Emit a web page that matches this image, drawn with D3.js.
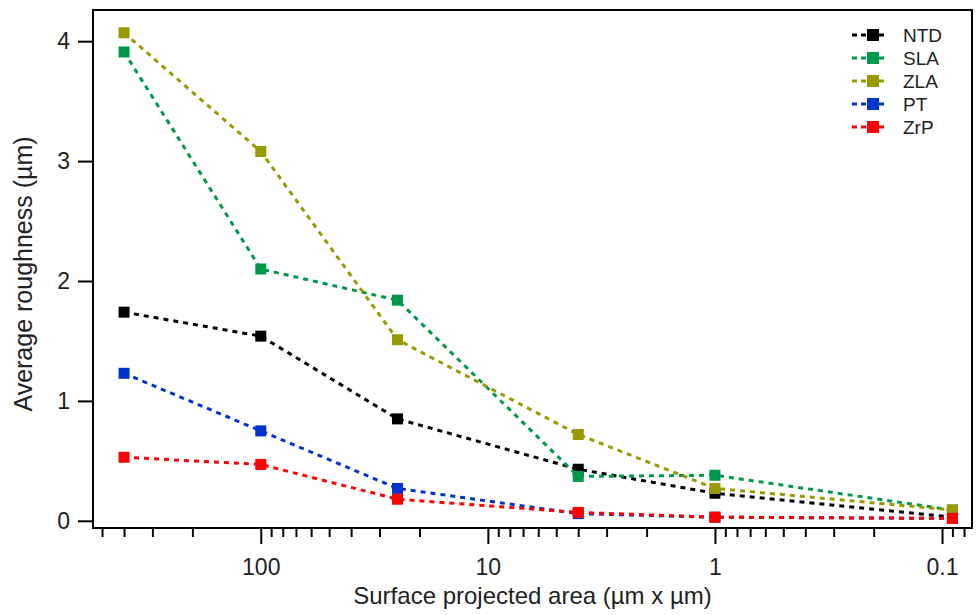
<!DOCTYPE html>
<html>
<head>
<meta charset="utf-8">
<script src="https://cdn.jsdelivr.net/npm/d3@7"></script>
<style>
  body { margin: 0; background: #fff; }
  text { font-family: "Liberation Sans", Arial, sans-serif; fill: #222; }
</style>
</head>
<body>
<div id="chart"></div>
<script>
// data
const areas = [400, 100, 25, 4, 1, 0.09];          // surface projected area (µm x µm)
const seriesNames = ["NTD", "SLA", "ZLA", "PT", "ZrP"];
const seriesColors = ["#000000", "#00994c", "#999900", "#0033cc", "#ff0000"];
const ntd = [1.74, 1.54, 0.85, 0.43, 0.23, 0.03];
const sla = [3.91, 2.10, 1.84, 0.37, 0.38, 0.09];
const zla = [4.07, 3.08, 1.51, 0.72, 0.27, 0.09];
const pt  = [1.23, 0.75, 0.27, 0.06, 0.03, 0.02];
const zrp = [0.53, 0.47, 0.18, 0.07, 0.03, 0.02];
const yTicks = [0, 1, 2, 3, 4];
const xMajor = [100, 10, 1, 0.1];
const xTickLabels = ["100", "10", "1", "0.1"];

const allSeries = [ntd, sla, zla, pt, zrp];

// set the dimensions of the graph
const width = 976, height = 615;
const plotLeft = 93, plotRight = 972, plotTop = 10, plotBottom = 528;

const svg = d3.select("#chart")
    .append("svg")
    .attr("width", width)
    .attr("height", height);

// scales (x is log and reversed)
const x = d3.scaleLog()
    .domain([548, 0.0738])
    .range([plotLeft, plotRight]);
const y = d3.scaleLinear()
    .domain([-0.06, 4.26])
    .range([plotBottom, plotTop]);

// frame
svg.append("rect")
    .attr("x", plotLeft).attr("y", plotTop)
    .attr("width", plotRight - plotLeft).attr("height", plotBottom - plotTop)
    .attr("fill", "none")
    .attr("stroke", "#000")
    .attr("stroke-width", 2);

// Y axis
const yAxis = svg.append("g")
    .attr("transform", `translate(${plotLeft},0)`)
    .call(d3.axisLeft(y).tickValues(yTicks).tickSize(15).tickPadding(8).tickFormat(d3.format("d")));
yAxis.select(".domain").remove();
yAxis.selectAll("line").attr("stroke", "#000").attr("stroke-width", 2);
yAxis.selectAll("text").style("font-size", "23px").attr("fill", "#222");

// X axis: minor ticks
const minor = x.ticks().filter(d => !xMajor.some(m => Math.abs(m - d) < 1e-9));
const xMinor = svg.append("g")
    .attr("transform", `translate(0,${plotBottom})`)
    .call(d3.axisBottom(x).tickValues(minor).tickSize(9).tickFormat(""));
xMinor.select(".domain").remove();
xMinor.selectAll("line").attr("stroke", "#000").attr("stroke-width", 2);

// X axis: major ticks
const xAxis = svg.append("g")
    .attr("transform", `translate(0,${plotBottom})`)
    .call(d3.axisBottom(x).tickValues(xMajor).tickSize(16).tickPadding(15)
        .tickFormat((d, i) => xTickLabels[i]));
xAxis.select(".domain").remove();
xAxis.selectAll("line").attr("stroke", "#000").attr("stroke-width", 2);
xAxis.selectAll("text").style("font-size", "23px").attr("fill", "#222");

// axis titles
svg.append("text")
    .attr("x", (plotLeft + plotRight) / 2)
    .attr("y", 604)
    .attr("text-anchor", "middle")
    .style("font-size", "24px")
    .text("Surface projected area (µm x µm)");

svg.append("text")
    .attr("transform", `translate(32,${(plotTop + plotBottom) / 2 + 5}) rotate(-90)`)
    .attr("text-anchor", "middle")
    .style("font-size", "25px")
    .text("Average roughness (µm)");

// lines and markers
const line = d3.line()
    .x((d, i) => x(areas[i]))
    .y(d => y(d));

allSeries.forEach((vals, k) => {
    svg.append("path")
        .datum(vals)
        .attr("fill", "none")
        .attr("stroke", seriesColors[k])
        .attr("stroke-width", 3)
        .attr("stroke-dasharray", "5,5")
        .attr("d", line);

    svg.append("g")
        .selectAll("rect")
        .data(vals)
        .join("rect")
        .attr("x", (d, i) => x(areas[i]) - 5.5)
        .attr("y", d => y(d) - 5.5)
        .attr("width", 11)
        .attr("height", 11)
        .attr("fill", seriesColors[k]);
});

// legend
const legend = svg.append("g").attr("transform", "translate(852,35)");
seriesNames.forEach((name, k) => {
    const g = legend.append("g").attr("transform", `translate(0,${k * 23})`);
    g.append("line")
        .attr("x1", 0).attr("x2", 36)
        .attr("y1", 0).attr("y2", 0)
        .attr("stroke", seriesColors[k])
        .attr("stroke-width", 3)
        .attr("stroke-dasharray", "5,4");
    g.append("rect")
        .attr("x", 15).attr("y", -6)
        .attr("width", 12).attr("height", 12)
        .attr("fill", seriesColors[k]);
    g.append("text")
        .attr("x", 51).attr("y", 0)
        .attr("dy", "0.36em")
        .style("font-size", "19px")
        .text(name);
});
</script>
</body>
</html>
